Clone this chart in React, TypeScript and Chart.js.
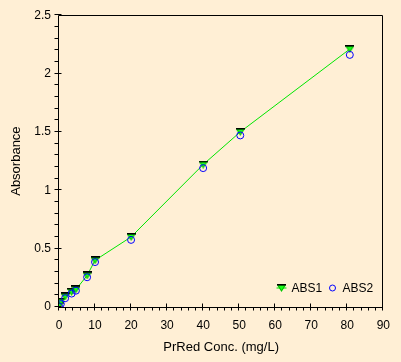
import React, { useEffect, useRef } from "react";
import { Chart, registerables } from "chart.js";

Chart.register(...registerables);

const concentrations = [0, 0.5, 1.7, 3.5, 4.7, 7.8, 10, 20, 40, 50.3, 80.7];
const abs1 = [0.01, 0.045, 0.09, 0.13, 0.15, 0.27, 0.4, 0.6, 1.22, 1.5, 2.21];
const abs2 = [0.005, 0.025, 0.075, 0.115, 0.14, 0.255, 0.385, 0.575, 1.19, 1.47, 2.16];
const seriesNames = ["ABS1", "ABS2"];
const xTitle = "PrRed Conc. (mg/L)";
const yTitle = "Absorbance";

const BG = "#FFEFD5";
const GREEN = "#00E600";
const BLUE = "#0000FF";
const FONT = "'Liberation Sans', Arial, sans-serif";

function makeTriangle(): HTMLCanvasElement {
  const c = document.createElement("canvas");
  c.width = 9;
  c.height = 8;
  const ctx = c.getContext("2d")!;
  ctx.fillStyle = "#00C800";
  ctx.beginPath();
  ctx.moveTo(0, 1);
  ctx.lineTo(9, 1);
  ctx.lineTo(4.5, 8);
  ctx.closePath();
  ctx.fill();
  ctx.fillStyle = "#1EFF1E";
  ctx.beginPath();
  ctx.moveTo(2, 2);
  ctx.lineTo(7, 2);
  ctx.lineTo(4.5, 6);
  ctx.closePath();
  ctx.fill();
  ctx.fillStyle = "#000000";
  ctx.fillRect(0, 0, 9, 1.5);
  return c;
}

export default function App() {
  const ref = useRef<HTMLCanvasElement | null>(null);

  useEffect(() => {
    if (!ref.current) return;
    const tri = makeTriangle();

    const framePlugin = {
      id: "frame",
      afterDraw(chart: any) {
        const { ctx, chartArea } = chart;
        const xs = chart.scales.x;
        const ys = chart.scales.y;
        const L = Math.round(chartArea.left) - 0.5;
        const R = Math.round(chartArea.right) - 0.5;
        const T = Math.round(chartArea.top) + 0.5;
        const B = Math.round(chartArea.bottom) + 0.5;
        ctx.save();
        ctx.strokeStyle = "#000";
        ctx.lineWidth = 1;
        ctx.beginPath();
        ctx.rect(L, T, R - L, B - T);
        ctx.stroke();
        // x ticks
        ctx.beginPath();
        for (let v = 0; v <= 90; v += 2) {
          const px = Math.round(xs.getPixelForValue(v)) - 0.5;
          const major = v % 10 === 0;
          ctx.moveTo(px, major ? B - 4 : B);
          ctx.lineTo(px, B + 3);
        }
        // y ticks
        for (let i = 0; i <= 25; i++) {
          const v = i / 10;
          const py = Math.round(ys.getPixelForValue(v)) - 0.5;
          const major = i % 5 === 0;
          ctx.moveTo(L - 4, py);
          ctx.lineTo(major ? L + 3 : L, py);
        }
        ctx.stroke();

        // legend
        const ly = B - 20;
        const lx1 = R - 101;
        ctx.strokeStyle = GREEN;
        ctx.beginPath();
        ctx.moveTo(lx1 - 5, ly + 0.5);
        ctx.lineTo(lx1 + 5, ly + 0.5);
        ctx.stroke();
        ctx.drawImage(tri, Math.round(lx1 - 4.5), Math.round(ly - 4));
        ctx.fillStyle = "#000";
        ctx.font = `12px ${FONT}`;
        ctx.textBaseline = "middle";
        ctx.textAlign = "left";
        ctx.fillText(seriesNames[0], lx1 + 10, ly + 1);
        const lx2 = R - 50;
        ctx.strokeStyle = BLUE;
        ctx.beginPath();
        ctx.arc(lx2, ly + 0.5, 3, 0, Math.PI * 2);
        ctx.stroke();
        ctx.fillText(seriesNames[1], lx2 + 10, ly + 1);
        ctx.restore();
      },
    };

    const chart = new Chart(ref.current, {
      type: "scatter",
      data: {
        datasets: [
          {
            label: seriesNames[1],
            data: concentrations.map((x, i) => ({ x, y: abs2[i] })),
            showLine: false,
            pointStyle: "circle",
            pointRadius: 3.5,
            pointBorderColor: BLUE,
            pointBackgroundColor: "rgba(0,0,0,0)",
            pointBorderWidth: 1,
            order: 0,
          },
          {
            label: seriesNames[0],
            data: concentrations.map((x, i) => ({ x, y: abs1[i] })),
            showLine: true,
            borderColor: GREEN,
            borderWidth: 1,
            pointStyle: tri as any,
            pointRadius: 4,
            order: 1,
          },
        ],
      },
      options: {
        animation: false,
        responsive: false,
        maintainAspectRatio: false,
        layout: { padding: { top: 15, right: 15, left: 0, bottom: 0 } },
        plugins: {
          legend: { display: false },
          tooltip: { enabled: false },
        },
        scales: {
          x: {
            type: "linear",
            min: 0,
            max: 90,
            afterFit: (s: any) => {
              s.height = 55;
            },
            border: { display: false },
            grid: { display: true, drawOnChartArea: false, drawTicks: false, color: "rgba(0,0,0,0)" },
            ticks: {
              stepSize: 10,
              color: "#000",
              padding: 11,
              font: { family: FONT, size: 12 },
              maxRotation: 0,
            },
            title: {
              display: true,
              text: xTitle,
              color: "#000",
              font: { family: FONT, size: 13 },
              padding: { top: 0, bottom: 7 },
            },
          },
          y: {
            type: "linear",
            min: 0,
            max: 2.5,
            afterFit: (s: any) => {
              s.width = 59;
            },
            border: { display: false },
            grid: { display: true, drawOnChartArea: false, drawTicks: false, color: "rgba(0,0,0,0)" },
            ticks: {
              stepSize: 0.5,
              color: "#000",
              padding: 8,
              font: { family: FONT, size: 12 },
              callback: (v: any) => String(Number(v)),
            },
            title: {
              display: true,
              text: yTitle,
              color: "#000",
              font: { family: FONT, size: 13 },
              padding: { top: 9, bottom: 0 },
            },
          },
        },
      },
      plugins: [framePlugin],
    });
    return () => chart.destroy();
  }, []);

  return (
    <div
      style={{
        position: "fixed",
        left: 0,
        top: 0,
        width: 401,
        height: 362,
        background: BG,
      }}
    >
      <canvas ref={ref} width={401} height={362} style={{ width: 401, height: 362, display: "block" }} />
    </div>
  );
}
